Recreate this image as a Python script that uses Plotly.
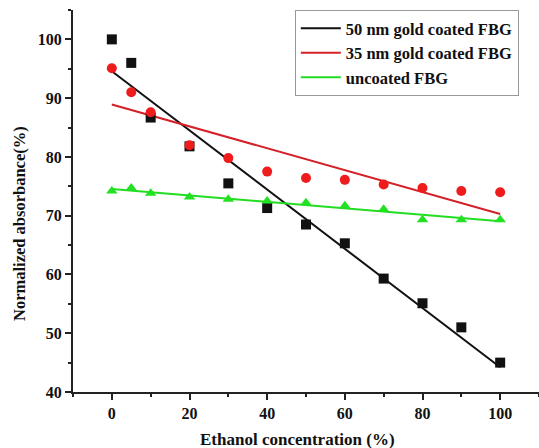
import numpy as np
import plotly.graph_objects as go

conc = [0, 5, 10, 20, 30, 40, 50, 60, 70, 80, 90, 100]
gold50 = [100.0, 96.0, 86.7, 81.8, 75.5, 71.3, 68.5, 65.3, 59.3, 55.1, 51.0, 45.0]
gold35 = [95.1, 91.0, 87.6, 82.0, 79.8, 77.5, 76.4, 76.1, 75.3, 74.7, 74.2, 74.0]
uncoated = [74.2, 74.7, 73.8, 73.2, 72.8, 72.5, 72.2, 71.7, 71.1, 69.3, 69.3, 69.3]

names = ["50 nm gold coated FBG", "35 nm gold coated FBG", "uncoated FBG"]
series = [gold50, gold35, uncoated]
marker_colors = ["#111111", "#ee1c1c", "#22e022"]
line_colors = ["#111111", "#d42028", "#22dd22"]
symbols = ["square", "circle", "triangle-up"]
sizes = [10, 10, 10]

fig = go.Figure()
x = np.array(conc, dtype=float)
for name, ys, lc in zip(names, series, line_colors):
    m, b = np.polyfit(x, np.array(ys), 1)
    fx = [0, 100]
    fig.add_trace(go.Scatter(x=fx, y=[b + m * v for v in fx], mode="lines",
                             line=dict(color=lc, width=2), name=name))
for name, ys, mc, sym, sz in zip(names, series, marker_colors, symbols, sizes):
    fig.add_trace(go.Scatter(x=conc, y=ys, mode="markers", showlegend=False,
                             marker=dict(symbol=sym, size=sz, color=mc), name=name))

font_fam = "Liberation Serif"
bold = dict(family=font_fam, color="#111111", weight="bold")
axis_common = dict(showline=True, linecolor="#222222", linewidth=2, ticks="outside",
                   tickcolor="#222222", ticklen=6, tickwidth=2, showgrid=False, zeroline=False,
                   mirror=False, tickfont=dict(size=16, **bold))

fig.update_layout(
    width=539, height=448,
    margin=dict(l=73, r=0, t=10, b=56),
    plot_bgcolor="white", paper_bgcolor="white",
    xaxis=dict(range=[-10, 110], tick0=0, dtick=20,
               minor=dict(dtick=10, ticks="outside", ticklen=3, tickcolor="#222222", tickwidth=2),
               **axis_common),
    yaxis=dict(range=[40, 105], tick0=40, dtick=10,
               minor=dict(dtick=5, ticks="outside", ticklen=3, tickcolor="#222222", tickwidth=2),
               **axis_common),
    legend=dict(x=0.476, y=1.0, xanchor="left", yanchor="top",
                bordercolor="#999999", borderwidth=1, bgcolor="white",
                font=dict(size=16.5, **bold),
                tracegroupgap=0, itemwidth=40),
    annotations=[
        dict(text="Ethanol concentration (%)", xref="paper", yref="paper",
             x=(297 - 73) / 466, y=-(440 - 392) / 382, xanchor="center", yanchor="middle",
             showarrow=False, font=dict(size=17, **bold)),
        dict(text="Normalized absorbance(%)", xref="paper", yref="paper",
             x=-(73 - 19) / 466, y=(392 - 224) / 382, xanchor="center", yanchor="middle",
             textangle=-90, showarrow=False, font=dict(size=16.5, **bold)),
    ],
)

fig.write_html("out.html")
